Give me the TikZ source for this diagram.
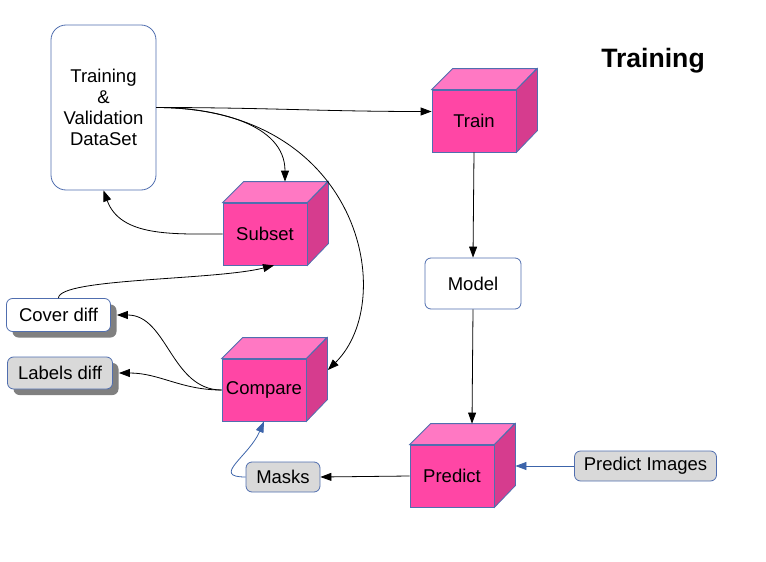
\documentclass[tikz,border=0pt]{standalone}
\usepackage{fontspec}
\setmainfont{Liberation Sans}
\usetikzlibrary{arrows.meta,shadows}

\definecolor{boxline}{RGB}{80,110,175}
\definecolor{cubefront}{RGB}{255,70,165}
\definecolor{cubetop}{RGB}{255,120,195}
\definecolor{cubeside}{RGB}{214,60,142}
\definecolor{notegray}{RGB}{217,217,217}
\definecolor{flowblue}{RGB}{60,100,170}

% top and right faces of a cube whose front face is node #1
\newcommand{\cubesides}[1]{%
  \draw[boxline,fill=cubetop] (#1.north west) -- ++(21,21) -- ++(84,0) -- (#1.north east) -- cycle;
  \draw[boxline,fill=cubeside] (#1.north east) -- ++(21,21) -- ++(0,-62) -- (#1.south east) -- cycle;}

\begin{document}
\begin{tikzpicture}[x=1pt,y=1pt,font=\fontsize{18.5}{21}\selectfont,line width=0.8pt,
  >={Triangle[length=11pt,width=8pt]},
  cube/.style={draw=boxline,fill=cubefront,minimum width=84pt,minimum height=62pt,inner sep=0pt},
  whitebox/.style={draw=boxline,fill=white,rounded corners=6pt,inner sep=0pt},
  graybox/.style={draw=boxline,fill=notegray,rounded corners=6pt,inner sep=0pt},
  shadowed/.style={drop shadow={shadow xshift=6pt,shadow yshift=-6pt,fill=black!50,opacity=1}},
  link/.style={->,black},
  bluelink/.style={->,flowblue}]
  \useasboundingbox (0,0) rectangle (766,-562);

  \draw (653,-61) node (title) {\fontsize{26.6}{30}\selectfont\bfseries Training};
  \draw (103.5,-107.5) node[whitebox,rounded corners=15pt,minimum width=105pt,minimum height=165pt,align=center] (data) {Training\\\&\\Validation\\DataSet};

  \draw (474,-121) node[cube] (train) {Train};
  \draw (265,-234) node[cube] (subset) {Subset};
  \draw (264,-390) node[cube] (compare) {Compare};
  \draw (452,-476) node[cube] (predict) {Predict};
  \cubesides{train}
  \cubesides{subset}
  \cubesides{compare}
  \cubesides{predict}

  \draw (473,-283.5) node[whitebox,minimum width=96pt,minimum height=51pt] (model) {Model};
  \draw (645.5,-466) node[graybox,minimum width=142pt,minimum height=30pt] (images) {Predict Images};
  \draw (283,-477) node[graybox,minimum width=74pt,minimum height=30pt] (masks) {Masks};
  \draw (58.5,-315) node[whitebox,shadowed,minimum width=104pt,minimum height=33pt] (cover) {Cover diff};
  \draw (60,-373) node[graybox,shadowed,minimum width=105pt,minimum height=32pt] (labels) {Labels diff};

  \coordinate (trainin) at ([yshift=9.5pt]train.west);
  \coordinate (subsettop) at ([shift={(20,21)}]subset.north);
  \coordinate (compareside) at ([shift={(21.5,20)}]compare.east);
  \coordinate (subsetfoot) at ([xshift=9pt]subset.south);
  \coordinate (predtop) at ([shift={(20,21)}]predict.north);
  \coordinate (predside) at ([shift={(21,10)}]predict.east);
  \coordinate (coverin) at ([xshift=6pt]cover.east);
  \coordinate (labelsin) at ([xshift=6pt]labels.east);

  \draw[link] (data.east) to[out=0,in=180] (trainin);
  \draw[link] (data.east) to[out=0,in=90] (subsettop);
  \draw[link] (data.east) .. controls +(204,0) and +(71,70) .. (compareside);
  \draw[link] (subset.west) to[out=180,in=-70] (data.south);
  \draw[link] (cover.north) .. controls +(0,20) and +(-60,-15) .. (subsetfoot);
  \draw[link] (compare.west) to[out=180,in=0] (coverin);
  \draw[link] (compare.west) to[out=180,in=0] (labelsin);
  \draw[link] (train.south) -- (model.north);
  \draw[link] (model.south) -- (predtop);
  \draw[link] (predict.west) -- (masks.east);
  \draw[bluelink] (images.west) -- (predside);
  \draw[bluelink] (masks.west) .. controls +(-35,0) and +(-15,-35) .. (compare.south);
\end{tikzpicture}
\end{document}
